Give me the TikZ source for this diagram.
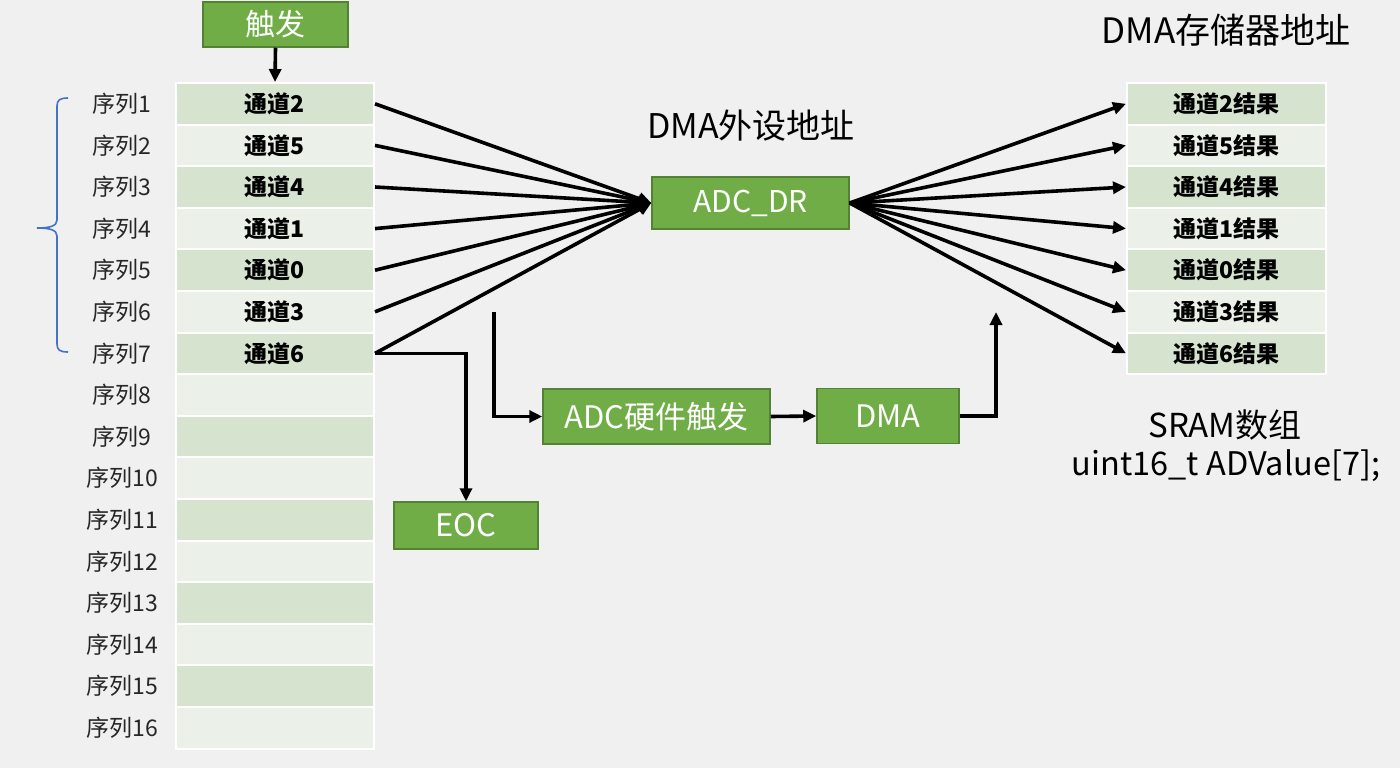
\documentclass[tikz,border=0pt]{standalone}
\usepackage{fontspec}
\setmainfont{Noto Sans CJK SC}
\usetikzlibrary{arrows.meta}
\definecolor{bg}{HTML}{F0F0F0}
\definecolor{gfill}{HTML}{70AD47}
\definecolor{gline}{HTML}{548235}
\definecolor{cdark}{HTML}{D6E3CF}
\definecolor{clight}{HTML}{EBF0E8}
\definecolor{brace}{HTML}{4472C4}
\definecolor{lbl}{HTML}{262626}
\tikzset{
  gbox/.style={fill=gfill, draw=gline, line width=1.5pt, text=white, inner sep=0pt, font=\fontsize{31}{34}\selectfont},
  cellL/.style={draw=white, line width=2pt, minimum width=198pt, minimum height=41.6pt, inner sep=0pt, font=\bfseries\fontsize{23}{26}\selectfont},
  cellR/.style={draw=white, line width=2pt, minimum width=199pt, minimum height=41.6pt, inner sep=0pt, font=\bfseries\fontsize{23}{26}\selectfont},
  seqlbl/.style={text=lbl, inner sep=0pt, font=\fontsize{23}{26}\selectfont},
  title/.style={inner sep=0pt, font=\fontsize{34}{38}\selectfont},
  arr/.style={line width=3.6pt, -{Triangle[length=13pt,width=12pt]}},
  plain/.style={line width=3.6pt}
}
\begin{document}
\begin{tikzpicture}[x=1pt,y=-1pt]
\fill[bg] (0,0) rectangle (1400,768);
\useasboundingbox (0,0) rectangle (1400,768);

% left table
\foreach \i/\t in {1/通道2,2/通道5,3/通道4,4/通道1,5/通道0,6/通道3,7/通道6,8/,9/,10/,11/,12/,13/,14/,15/,16/}{
  \pgfmathsetmacro{\yy}{103.8+41.6*(\i-1)}
  \ifodd\i
    \node[cellL, fill=cdark] (L\i) at (275,\yy) {\t};
  \else
    \node[cellL, fill=clight] (L\i) at (275,\yy) {\t};
  \fi
  \node[seqlbl] (S\i) at (122,\yy) {序列\i};
}

% right table
\foreach \i/\t in {1/通道2结果,2/通道5结果,3/通道4结果,4/通道1结果,5/通道0结果,6/通道3结果,7/通道6结果}{
  \pgfmathsetmacro{\yy}{103.8+41.6*(\i-1)}
  \ifodd\i
    \node[cellR, fill=cdark] (R\i) at (1226.5,\yy) {\t};
  \else
    \node[cellR, fill=clight] (R\i) at (1226.5,\yy) {\t};
  \fi
}

% boxes
\node[gbox, minimum width=145pt, minimum height=45pt, font=\fontsize{30}{33}\selectfont] (trig) at (275.5,24.5) {触发};
\node[gbox, minimum width=197pt, minimum height=52pt, font=\fontsize{30}{33}\selectfont] (adc) at (750.5,203) {ADC\_DR};
\node[gbox, minimum width=144pt, minimum height=47pt] (eoc) at (466,525.5) {EOC};
\node[gbox, minimum width=227pt, minimum height=55pt] (hw) at (656.5,416.5) {ADC硬件触发};
\node[gbox, minimum width=142pt, minimum height=55pt] (dma) at (888,416) {DMA};

% titles
\node[title] (t1) at (751,126) {DMA外设地址};
\node[title, font=\fontsize{35}{38}\selectfont] (t2) at (1226,30) {DMA存储器地址};
\node[title, font=\fontsize{33}{38}\selectfont] (t3) at (1225,425) {SRAM数组};
\node[title, font=\fontsize{32.5}{38}\selectfont] (t4) at (1226,466) {uint16\_t ADValue[7];};

% brace
\draw[brace, line width=1.6pt] (68,98) .. controls (60,98) and (57,100) .. (57,106) -- (57,220) .. controls (57,226) and (50,228) .. (37,228) .. controls (50,228) and (57,230) .. (57,236) -- (57,344) .. controls (57,350) and (60,352) .. (68,352);

% connectors
\draw[arr] (trig.south) -- (L1.north);
\foreach \i in {1,...,7}{
  \draw[arr] (L\i.east) -- (adc.west);
  \draw[arr] (adc.east) -- (R\i.west);
}
\draw[arr] (L7.east) -| (eoc.north);
\coordinate (hwstart) at (494,312);
\coordinate (dmaend) at (996,312);
\draw[arr] (hwstart) |- (hw.west);
\draw[arr] (hw.east) -- (dma.west);
\draw[arr] (dma.east) -| (dmaend);
\end{tikzpicture}
\end{document}
